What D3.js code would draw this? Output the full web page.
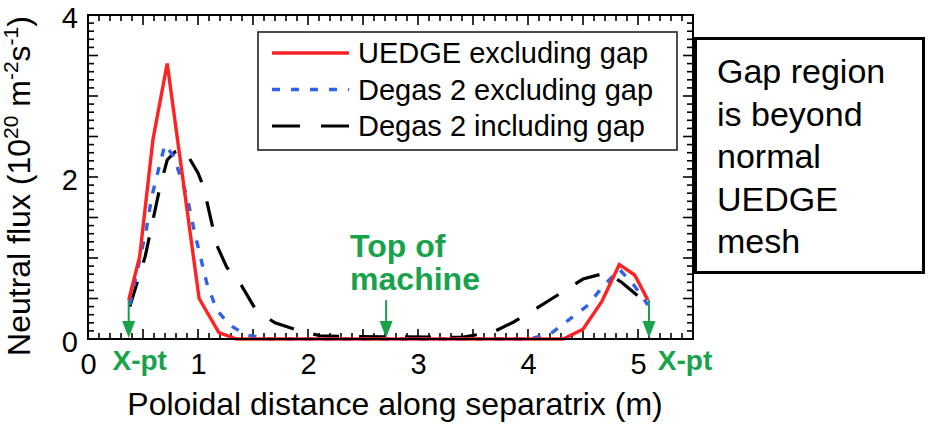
<!DOCTYPE html>
<html>
<head>
<meta charset="utf-8">
<script src="https://cdn.jsdelivr.net/npm/d3@7"></script>
<style>
  body { margin: 0; background: #fff; }
  svg { display: block; }
  text { font-family: "Liberation Sans", Arial, sans-serif; }
</style>
</head>
<body>
<svg id="chart" width="930" height="425"></svg>
<script>
// Axis tick labels
const xTickLabels = [0, 1, 2, 3, 4, 5];
const yTickLabels = [0, 2, 4];

// UEDGE excluding gap
const uedgeX = [0.37, 0.47, 0.59, 0.72, 1.01, 1.19, 1.35, 4.32, 4.50, 4.67, 4.83, 4.97, 5.09];
const uedgeY = [0.48, 1.02, 2.46, 3.40, 0.50, 0.08, 0.00, 0.00, 0.12, 0.46, 0.92, 0.79, 0.48];

// Degas 2 excluding gap
const degasExX = [0.38, 0.53, 0.58, 0.655, 0.70, 0.78, 0.90, 0.97, 1.08, 1.17, 1.29, 1.44, 1.65, 4.02, 4.21, 4.53, 4.67, 4.83, 4.96, 5.09];
const degasExY = [0.42, 1.35, 1.76, 2.17, 2.40, 2.25, 1.76, 1.31, 0.69, 0.36, 0.17, 0.05, 0.00, 0.00, 0.07, 0.40, 0.63, 0.86, 0.67, 0.42];

// Degas 2 including gap
const degasInX = [0.38, 0.52, 0.655, 0.72, 0.79, 0.87, 1.00, 1.05, 1.17, 1.26, 1.40, 1.53, 1.70, 1.90, 2.11, 2.41, 3.40, 3.69, 3.87, 4.08, 4.50, 4.72, 4.85, 5.08];
const degasInY = [0.40, 1.02, 1.88, 2.21, 2.31, 2.35, 2.05, 1.88, 1.16, 0.89, 0.65, 0.35, 0.20, 0.11, 0.04, 0.03, 0.02, 0.09, 0.21, 0.38, 0.74, 0.82, 0.70, 0.44];

// X-point and top-of-machine marker positions (m) and arrow start height
const xptLeft = 0.37, topOfMachine = 2.71, xptRight = 5.10;
const arrowTop = 0.48;

const legendNames = ["UEDGE excluding gap", "Degas 2 excluding gap", "Degas 2 including gap"];
const noteLines = ["Gap region", "is beyond", "normal", "UEDGE", "mesh"];

const GREEN = "#17a24b";
const svg = d3.select("#chart");
svg.append("rect").attr("width", 930).attr("height", 425).attr("fill", "#fff");

const x = d3.scaleLinear().domain([0, 5.5]).range([88, 693]);
const y = d3.scaleLinear().domain([0, 4]).range([339, 15]);

const plot = svg.append("g");

// Minor/major ticks on all four sides, pointing inward
const xMinor = d3.range(0, 56).map(i => +(i * 0.1).toFixed(2));
const yMinor = d3.range(0, 41).map(i => +(i * 0.1).toFixed(2));
const isMajor = v => Math.abs(v * 2 - Math.round(v * 2)) < 1e-6;
const tickLen = v => isMajor(v) ? 10 : 6;

const tickG = plot.append("g").attr("stroke", "#000").attr("stroke-width", 1.6);
xMinor.forEach(v => {
  tickG.append("line").attr("x1", x(v)).attr("x2", x(v)).attr("y1", y(0)).attr("y2", y(0) - tickLen(v));
  tickG.append("line").attr("x1", x(v)).attr("x2", x(v)).attr("y1", y(4)).attr("y2", y(4) + tickLen(v));
});
yMinor.forEach(v => {
  tickG.append("line").attr("y1", y(v)).attr("y2", y(v)).attr("x1", x(0)).attr("x2", x(0) + tickLen(v));
  tickG.append("line").attr("y1", y(v)).attr("y2", y(v)).attr("x1", x(5.5)).attr("x2", x(5.5) - tickLen(v));
});

// Tick labels via d3 axes
const xAxisG = svg.append("g").attr("transform", `translate(0,${y(0)})`)
  .call(d3.axisBottom(x).tickValues(xTickLabels).tickSize(0).tickPadding(0).tickFormat(d3.format("d")));
xAxisG.select(".domain").remove();
xAxisG.selectAll("text").attr("font-size", 29).attr("fill", "#000").attr("dy", null).attr("y", 35)
  .attr("font-family", "Liberation Sans, Arial, sans-serif");

const yAxisG = svg.append("g").attr("transform", `translate(78,0)`)
  .call(d3.axisLeft(y).tickValues(yTickLabels).tickSize(0).tickPadding(0).tickFormat(d3.format("d")));
yAxisG.select(".domain").remove();
yAxisG.selectAll("text").attr("font-size", 29).attr("fill", "#000").attr("x", 0).attr("dy", "0.42em")
  .attr("font-family", "Liberation Sans, Arial, sans-serif");

// Series lines: Degas including gap, Degas excluding gap, then UEDGE on top
const line = d3.line().x(d => x(d[0])).y(d => y(d[1]));
const zip = (a, b) => a.map((v, i) => [v, b[i]]);
const series = [
  { pts: zip(degasInX, degasInY), color: "#000", dash: "26,20", w: 3.2 },
  { pts: zip(degasExX, degasExY), color: "#2f62e8", dash: "8,11", w: 3.4 },
  { pts: zip(uedgeX, uedgeY), color: "#ff2222", dash: null, w: 3.4 }
];
series.forEach(s => {
  plot.append("path").attr("d", line(s.pts)).attr("fill", "none")
    .attr("stroke", s.color).attr("stroke-width", s.w)
    .attr("stroke-dasharray", s.dash).attr("stroke-linejoin", "miter");
});

// Plot frame
plot.append("rect").attr("x", x(0)).attr("y", y(4)).attr("width", x(5.5) - x(0)).attr("height", y(0) - y(4))
  .attr("fill", "none").attr("stroke", "#000").attr("stroke-width", 2);

// Green marker arrows
[xptLeft, topOfMachine, xptRight].forEach(v => {
  const cx = x(v), tip = y(0) - 1, base = tip - 17;
  svg.append("line").attr("x1", cx).attr("x2", cx).attr("y1", y(arrowTop)).attr("y2", base + 1)
    .attr("stroke", GREEN).attr("stroke-width", 2);
  svg.append("path").attr("d", `M${cx - 6.5},${base}L${cx + 6.5},${base}L${cx},${tip}Z`).attr("fill", GREEN);
});

svg.append("text").attr("x", x(xptLeft) + 11).attr("y", 370).attr("text-anchor", "middle")
  .attr("font-size", 28).attr("font-weight", "bold").attr("fill", GREEN).text("X-pt");
svg.append("text").attr("x", x(xptRight) + 36).attr("y", 370).attr("text-anchor", "middle")
  .attr("font-size", 28).attr("font-weight", "bold").attr("fill", GREEN).text("X-pt");
const tom = svg.append("text").attr("text-anchor", "start").attr("font-size", 32)
  .attr("font-weight", "bold").attr("fill", GREEN);
tom.append("tspan").attr("x", x(topOfMachine) - 36).attr("y", 257).text("Top of");
tom.append("tspan").attr("x", x(topOfMachine) - 36).attr("y", 290).text("machine");

// Legend
const lg = svg.append("g");
lg.append("rect").attr("x", 258).attr("y", 32).attr("width", 419).attr("height", 118)
  .attr("fill", "#fff").attr("stroke", "#222").attr("stroke-width", 1.6);
const legendStyles = [series[2], series[1], series[0]];
legendNames.forEach((name, i) => {
  const cy = 53 + i * 36.5;
  const s = legendStyles[i];
  lg.append("line").attr("x1", 272).attr("x2", 349).attr("y1", cy).attr("y2", cy)
    .attr("stroke", s.color).attr("stroke-width", s.w).attr("stroke-dasharray", i === 2 ? "28,21" : s.dash);
  lg.append("text").attr("x", 358).attr("y", cy + 10).attr("font-size", 29).attr("fill", "#000").text(name);
});

// Axis titles
svg.append("text").attr("x", 395).attr("y", 415).attr("text-anchor", "middle")
  .attr("font-size", 32).attr("fill", "#000").text("Poloidal distance along separatrix (m)");

const yt = svg.append("text").attr("transform", "translate(30,186) rotate(-90)")
  .attr("text-anchor", "middle").attr("font-size", 32).attr("fill", "#000");
yt.append("tspan").text("Neutral flux (10");
yt.append("tspan").attr("font-size", 21).attr("dy", -12).text("20");
yt.append("tspan").attr("dy", 12).text(" m");
yt.append("tspan").attr("font-size", 21).attr("dy", -12).text("-2");
yt.append("tspan").attr("dy", 12).text("s");
yt.append("tspan").attr("font-size", 21).attr("dy", -12).text("-1");
yt.append("tspan").attr("dy", 12).text(")");

// Note box
const nb = svg.append("g");
nb.append("rect").attr("x", 695.5).attr("y", 38.5).attr("width", 228).attr("height", 234)
  .attr("fill", "#fff").attr("stroke", "#000").attr("stroke-width", 3);
noteLines.forEach((t, i) => {
  nb.append("text").attr("x", 717).attr("y", 83 + i * 42.5).attr("font-size", 34).attr("fill", "#000").text(t);
});
</script>
</body>
</html>
